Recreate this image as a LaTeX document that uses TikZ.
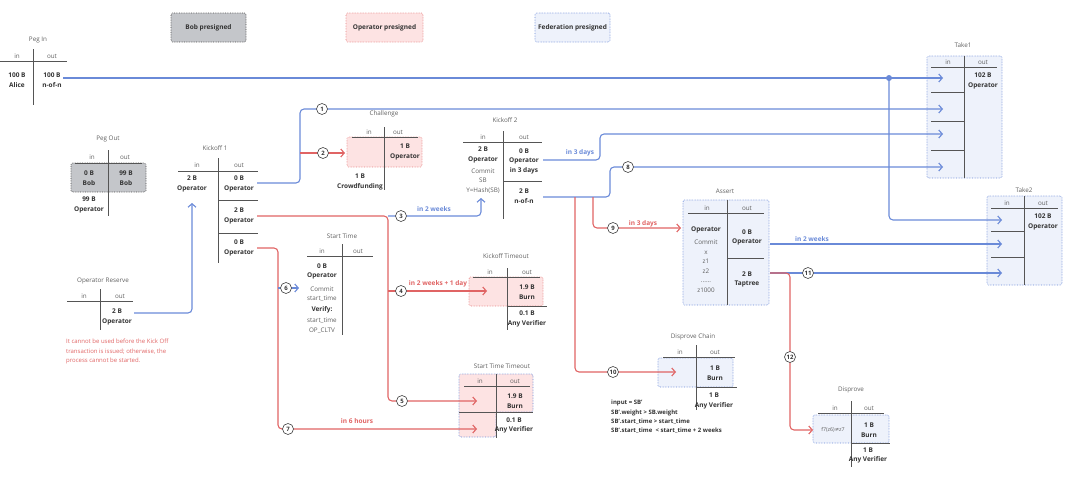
\documentclass[tikz,border=0pt]{standalone}
\usepackage{fontspec}
\setmainfont{Open Sans}
\newfontfamily\symfont{DejaVu Sans}
\usetikzlibrary{arrows.meta}
\definecolor{bl}{HTML}{6A8AD8}
\definecolor{rd}{HTML}{E06464}
\definecolor{pinkf}{HTML}{FDE3E3}
\definecolor{bluef}{HTML}{EEF2FB}
\definecolor{grayf}{HTML}{C4C6CA}
\definecolor{txt}{HTML}{333333}
\definecolor{ttl}{HTML}{606060}
\definecolor{rul}{HTML}{555555}
\begin{document}
\begin{tikzpicture}[x=1pt,y=-1pt,
  every node/.append style={inner sep=0pt,align=center,text=txt},
  >={Straight Barb[length=3.5pt,width=8pt]},
  bwire/.style={draw=bl,line width=1.1pt,rounded corners=4pt,->},
  rwire/.style={draw=rd,line width=1.1pt,rounded corners=4pt,->}]
  \tikzstyle{val} = [font=\fontsize{6.5}{9.5}\selectfont\bfseries]
  \tikzstyle{hd} = [font=\fontsize{6.3}{9.5}\selectfont,text=ttl]
  \tikzstyle{rule} = [draw=rul,line width=0.8pt]
  \tikzstyle{num} = [circle,draw=black!75,fill=white,line width=0.6pt,minimum size=11pt,font=\fontsize{6}{7}\selectfont\bfseries]
  \tikzstyle{bobbox} = [fill=grayf,draw=black!70,densely dotted,line width=0.7pt,rounded corners=1.5pt]
  \tikzstyle{opbox} = [fill=pinkf,draw=rd!80,densely dotted,line width=0.6pt,rounded corners=1.5pt]
  \tikzstyle{fedbox} = [fill=bluef,draw=bl,densely dotted,line width=0.6pt,rounded corners=1.5pt]
  \tikzstyle{wlbl} = [font=\fontsize{6.5}{8}\selectfont\bfseries]
  \useasboundingbox (0,0) rectangle (1080,479);

  \node (leg_bob) [bobbox,val,minimum width=75pt,minimum height=29pt] at (208.5,27.5) {Bob presigned};
  \node (leg_op) [opbox,val,minimum width=77pt,minimum height=29pt] at (384.5,27.5) {Operator presigned};
  \node (leg_fed) [fedbox,val,minimum width=75pt,minimum height=29pt] at (572.5,27.5) {Federation presigned};

  \draw[bobbox] (71,163) rectangle (146,192);
  \draw[opbox] (347,137) rectangle (422,167);
  \draw[opbox] (469,277) rectangle (543,306);
  \draw[opbox,draw=bl] (459,374) -- (533,374) -- (533,412) -- (496,412) -- (496,437) -- (459,437) -- cycle;
  \draw[fedbox] (927,56) rectangle (1002,178);
  \draw[fedbox] (987,196) rectangle (1062,285);
  \draw[fedbox] (683,200) rectangle (769,305);
  \draw[fedbox] (658,358) rectangle (733,387);
  \draw[fedbox] (813,415) rectangle (889,443);

  \coordinate (pi_o) at (63,78);
  \coordinate (dot) at (889,78);
  \coordinate (k1_o1) at (257,183);
  \coordinate (k1_o2) at (257,216);
  \coordinate (k1_o3) at (257,248);
  \coordinate (k1_i) at (192,203);
  \coordinate (or_o) at (134,313);
  \coordinate (ch_i) at (345,153);
  \coordinate (k2_o1) at (543,160);
  \coordinate (k2_o2) at (543,197);
  \coordinate (k2_i) at (481,198);
  \coordinate (st_i) at (299,288);
  \coordinate (kt_i) at (487,291);
  \coordinate (stt_i1) at (477,401);
  \coordinate (stt_i2) at (477,429);
  \coordinate (as_i) at (681,228);
  \coordinate (as_o1) at (770,244);
  \coordinate (as_o2) at (770,273);
  \coordinate (dc_i) at (676,372);
  \coordinate (di_i) at (813,430);
  \coordinate (t1_i1) at (943,78);
  \coordinate (t1_i2) at (943,109);
  \coordinate (t1_i3) at (943,134);
  \coordinate (t1_i4) at (943,167);
  \coordinate (t2_i1) at (1002,220);
  \coordinate (t2_i2) at (1002,244);
  \coordinate (t2_i3) at (1002,273);
  \coordinate (j1) at (300,109);
  \coordinate (j2) at (300,153);
  \coordinate (j3) at (388,401);
  \coordinate (j4) at (388,216);
  \coordinate (j5) at (388,291);
  \coordinate (j6) at (278,429);
  \coordinate (j7) at (278,288);
  \coordinate (j8) at (600,134);
  \coordinate (j9) at (610,167);
  \coordinate (j10) at (593,197);
  \coordinate (j11) at (575,197);
  \coordinate (j12) at (790,430);

  \draw[bwire] (pi_o) -- (t1_i1);
  \draw[bwire] (dot) |- (t2_i1);
  \fill[bl] (dot) circle (3pt);
  \draw[bwire] (k1_o1) -| (j1) -- (t1_i2);
  \draw[rwire] (j2) -- (ch_i);
  \draw[rwire] (k1_o2) -| (j3) -- (stt_i1);
  \draw[bwire] (j4) -| (k2_i);
  \draw[rwire] (j5) -- (kt_i);
  \draw[rwire] (k1_o3) -| (j6) -- (stt_i2);
  \draw[bwire] (j7) -- (st_i);
  \draw[bwire] (or_o) -| (k1_i);
  \draw[bwire] (k2_o1) -| (j8) -- (t1_i3);
  \draw[bwire] (k2_o2) -| (j9) -- (t1_i4);
  \draw[rwire] (j10) |- (as_i);
  \draw[rwire] (j11) |- (dc_i);
  \draw[bwire] (as_o1) -- (t2_i2);
  \draw[bwire] (as_o2) -- (t2_i3);
  \draw[rwire] (as_o2) -| (j12) -- (di_i);

  \node (lb_1) [wlbl,text=bl] at (580,153) {in 3 days};
  \node (lb_2) [wlbl,text=bl] at (434,209) {in 2 weeks};
  \node (lb_3) [wlbl,text=rd] at (643,224) {in 3 days};
  \node (lb_4) [wlbl,text=bl] at (812,239) {in 2 weeks};
  \node (lb_5) [wlbl,text=rd] at (357,421) {in 6 hours};
  \node (lb_6) [wlbl,text=rd] at (438,284) {in 2 weeks + 1 day};

  \node (pi_t) [hd] at (38,40) {Peg In};
  \node (pi_hi) [hd] at (17,56) {in};
  \node (pi_ho) [hd] at (52,56) {out};
  \draw[rule] (0,61) -- (67,61) (33,49) -- (33,105);
  \node (pi_in) [val] at (17,80) {100 B\\Alice};
  \node (pi_out) [val] at (52,80) {100 B\\n-of-n};

  \node (po_t) [hd] at (108,139) {Peg Out};
  \node (po_hi) [hd] at (92,157) {in};
  \node (po_ho) [hd] at (125,157) {out};
  \draw[rule] (75,163) -- (142,163) (108,150) -- (108,216);
  \node (po_in1) [val] at (89,178) {0 B\\Bob};
  \node (po_out1) [val] at (126,178) {99 B\\Bob};
  \node (po_in2) [val] at (89,205) {99 B\\Operator};

  \node (k1_t) [hd] at (215,148) {Kickoff 1};
  \node (k1_hi) [hd] at (197,165) {in};
  \node (k1_ho) [hd] at (239,165) {out};
  \draw[rule] (178,171) -- (258,171) (218,158) -- (218,263) (218,200) -- (258,200) (218,233) -- (258,233);
  \node (k1_in) [val] at (192,184) {2 B\\Operator};
  \node (k1_v1) [val] at (239,184) {0 B\\Operator};
  \node (k1_v2) [val] at (239,216) {2 B\\Operator};
  \node (k1_v3) [val] at (239,248) {0 B\\Operator};

  \node (or_t) [hd] at (103,281) {Operator Reserve};
  \node (or_hi) [hd] at (84,296) {in};
  \node (or_ho) [hd] at (120,296) {out};
  \draw[rule] (67,301) -- (133,301) (100,289) -- (100,330);
  \node (or_v) [val] at (117,317) {2 B\\Operator};
  \node (or_note) [anchor=north west,align=left,text=rd,font=\fontsize{6}{9.5}\selectfont] at (66,339) {It cannot be used before the Kick Off\\transaction is issued; otherwise, the\\process cannot be started.};

  \node (ch_t) [hd] at (384,114) {Challenge};
  \node (ch_hi) [hd] at (369,132) {in};
  \node (ch_ho) [hd] at (398,132) {out};
  \draw[rule] (352,137) -- (418,137) (384,127) -- (384,190);
  \node (ch_v) [val] at (405,152) {1 B\\Operator};
  \node (ch_in) [val] at (360,182) {1 B\\Crowdfunding};

  \node (k2_t) [hd] at (505,120) {Kickoff 2};
  \node (k2_hi) [hd] at (483,137) {in};
  \node (k2_ho) [hd] at (524,137) {out};
  \draw[rule] (463,142) -- (542,142) (503,131) -- (503,219) (503,181) -- (542,181);
  \node (k2_in) [val] at (483,155) {2 B\\Operator};
  \node (k2_cm) [hd] at (483,181) {Commit\\SB\\Y=Hash(SB)};
  \node (k2_v1) [val] at (524,161) {0 B\\Operator\\in 3 days};
  \node (k2_v2) [val] at (524,196) {2 B\\n-of-n};

  \node (st_t) [hd] at (342,236) {Start Time};
  \node (st_hi) [hd] at (322,251) {in};
  \node (st_ho) [hd] at (358,251) {out};
  \draw[rule] (307,256) -- (373,256) (342,244) -- (342,335);
  \node (st_in) [val] at (322,271.5) {0 B\\Operator};
  \node (st_cm) [hd] at (322,294) {Commit\\start\_time};
  \node (st_vf) [val] at (322,310) {Verify:};
  \node (st_ck) [hd] at (322,325.5) {start\_time\\OP\_CLTV};

  \node (kt_t) [hd] at (506,256) {Kickoff Timeout};
  \node (kt_hi) [hd] at (490,272) {in};
  \node (kt_ho) [hd] at (527,272) {out};
  \draw[rule] (473,277) -- (540,277) (507,268) -- (507,330) (507,306) -- (547,306);
  \node (kt_v1) [val] at (527,292) {1.9 B\\Burn};
  \node (kt_v2) [val] at (527,319) {0.1 B\\Any Verifier};

  \node (stt_t) [hd] at (502,366) {Start Time Timeout};
  \node (stt_hi) [hd] at (480,381) {in};
  \node (stt_ho) [hd] at (515,381) {out};
  \draw[rule] (464,386) -- (530,386) (496,374) -- (496,438) (459,412) -- (533,412);
  \node (stt_v1) [val] at (515,401) {1.9 B\\Burn};
  \node (stt_v2) [val] at (514,425.5) {0.1 B\\Any Verifier};

  \node (as_t) [hd] at (725,191) {Assert};
  \node (as_hi) [hd] at (707,208) {in};
  \node (as_ho) [hd] at (747,208) {out};
  \draw[rule] (688,213) -- (764,213) (727,200) -- (727,305) (727,258) -- (764,258);
  \node (as_in) [val] at (706,230) {Operator};
  \node (as_cm) [hd] at (706,266) {Commit\\x\\z1\\z2\\......\\z1000};
  \node (as_v1) [val] at (747,237.5) {0 B\\Operator};
  \node (as_v2) [val] at (747,279.5) {2 B\\Taptree};

  \node (dc_t) [hd] at (693,337) {Disprove Chain};
  \node (dc_hi) [hd] at (680,352) {in};
  \node (dc_ho) [hd] at (715,352) {out};
  \draw[rule] (663,357) -- (735,357) (696,345) -- (696,410) (696,387) -- (737,387);
  \node (dc_v1) [val] at (715,373) {1 B\\Burn};
  \node (dc_v2) [val] at (714,401) {1 B\\Any Verifier};
  \node (dc_note) [anchor=north west,align=left,font=\fontsize{6}{9.4}\selectfont\bfseries] at (611,400) {input = SB'\\SB'.weight > SB.weight\\SB'.start\_time > start\_time\\SB'.start\_time \ < start\_time + 2 weeks};

  \node (di_t) [hd] at (851,390) {Disprove};
  \node (di_hi) [hd] at (835,408) {in};
  \node (di_ho) [hd] at (869,408) {out};
  \draw[rule] (818,413) -- (884,413) (851,401) -- (851,467) (851,443) -- (890,443);
  \node (di_in) [hd,font=\fontsize{5.3}{7}\selectfont] at (833,430) {f7(z6){\symfont ≠}z7};
  \node (di_v1) [val] at (869,430) {1 B\\Burn};
  \node (di_v2) [val] at (868,455.5) {1 B\\Any Verifier};

  \node (t1_t) [hd] at (963,45) {Take1};
  \node (t1_hi) [hd] at (948,62) {in};
  \node (t1_ho) [hd] at (983,62) {out};
  \draw[rule] (931,67) -- (997,67) (964,56) -- (964,178);
  \foreach \y in {92,121,150} \draw[rule] (931,\y) -- (964,\y);
  \node (t1_v) [val] at (983,81) {102 B\\Operator};

  \node (t2_t) [hd] at (1024,190) {Take2};
  \node (t2_hi) [hd] at (1007,203) {in};
  \node (t2_ho) [hd] at (1043,203) {out};
  \draw[rule] (991,208) -- (1058,208) (1024,196) -- (1024,285);
  \foreach \y in {231,257} \draw[rule] (991,\y) -- (1024,\y);
  \node (t2_v) [val] at (1043,222) {102 B\\Operator};

  \node (n1) [num] at (322,109) {1};
  \node (n2) [num] at (323,153) {2};
  \node (n3) [num] at (401,216) {3};
  \node (n4) [num] at (401,291) {4};
  \node (n5) [num] at (402,401) {5};
  \node (n6) [num] at (286,288) {6};
  \node (n7) [num] at (288,429) {7};
  \node (n8) [num] at (628,167) {8};
  \node (n9) [num] at (613,228) {9};
  \node (n10) [num] at (613,372) {10};
  \node (n11) [num] at (808,273) {11};
  \node (n12) [num] at (790,357) {12};
\end{tikzpicture}
\end{document}
